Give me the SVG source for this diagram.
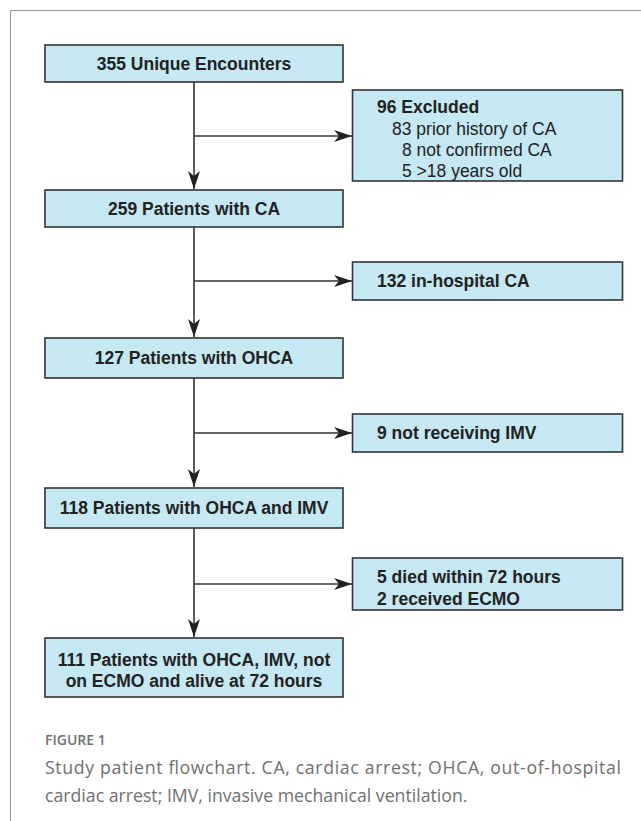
<svg xmlns="http://www.w3.org/2000/svg" width="641" height="821" viewBox="0 0 641 821">
<defs>
<style>
.box{fill:#c6e8f3;stroke:#333;stroke-width:1.6}
.b{font-family:"Liberation Sans",Arial,sans-serif;font-size:17.5px;font-weight:bold;fill:#222}
.r{font-family:"Liberation Sans",Arial,sans-serif;font-size:17.5px;fill:#222}
.c{text-anchor:middle}
.ln{fill:none;stroke:#333;stroke-width:1.6}
.cap{font-family:"Open Sans","Noto Sans",sans-serif;fill:#707070}
</style>
<marker id="ah" viewBox="0 0 18 12" refX="18" refY="6" markerWidth="18" markerHeight="12" markerUnits="userSpaceOnUse" orient="auto">
<path d="M0,0 L18,6 L0,12 L5,6 Z" fill="#222"/>
</marker>
</defs>
<rect width="641" height="821" fill="#fff"/>
<path d="M10.5,821 V10.5 H641" fill="none" stroke="#999" stroke-width="1"/>
<g id="connectors">
<line class="ln" x1="194" y1="82" x2="194" y2="189" marker-end="url(#ah)"/>
<line class="ln" x1="194" y1="136" x2="352" y2="136" marker-end="url(#ah)"/>
<line class="ln" x1="194" y1="227" x2="194" y2="337" marker-end="url(#ah)"/>
<line class="ln" x1="194" y1="281" x2="352" y2="281" marker-end="url(#ah)"/>
<line class="ln" x1="194" y1="378" x2="194" y2="487" marker-end="url(#ah)"/>
<line class="ln" x1="194" y1="433" x2="352" y2="433" marker-end="url(#ah)"/>
<line class="ln" x1="194" y1="528" x2="194" y2="637" marker-end="url(#ah)"/>
<line class="ln" x1="194" y1="584" x2="352" y2="584" marker-end="url(#ah)"/>
</g>
<g id="n1"><rect class="box" x="45" y="45" width="298" height="37"/><text class="b c" x="194" y="70">355 Unique Encounters</text></g>
<g id="n2"><rect class="box" x="352.5" y="90" width="270" height="91"/>
<text class="b" x="377" y="113">96 Excluded</text>
<text class="r" x="392" y="135">83 prior history of CA</text>
<text class="r" x="402" y="156">8 not confirmed CA</text>
<text class="r" x="402" y="177">5 &gt;18 years old</text></g>
<g id="n3"><rect class="box" x="45" y="190" width="298" height="37"/><text class="b c" x="194" y="215">259 Patients with CA</text></g>
<g id="n4"><rect class="box" x="352.5" y="262" width="270" height="38"/><text class="b" x="377" y="287">132 in-hospital CA</text></g>
<g id="n5"><rect class="box" x="45" y="338" width="298" height="40"/><text class="b c" x="194" y="364">127 Patients with OHCA</text></g>
<g id="n6"><rect class="box" x="352.5" y="414" width="270" height="38"/><text class="b" x="377" y="439">9 not receiving IMV</text></g>
<g id="n7"><rect class="box" x="45" y="488" width="298" height="40"/><text class="b c" x="194" y="514">118 Patients with OHCA and IMV</text></g>
<g id="n8"><rect class="box" x="352.5" y="558" width="270" height="52"/>
<text class="b" x="377" y="583">5 died within 72 hours</text>
<text class="b" x="377" y="605">2 received ECMO</text></g>
<g id="n9"><rect class="box" x="45" y="638" width="298" height="59"/>
<text class="b c" x="194" y="666">111 Patients with OHCA, IMV, not</text>
<text class="b c" x="194" y="687">on ECMO and alive at 72 hours</text></g>
<g id="caption">
<text class="cap" x="45" y="745" font-size="14" font-weight="600">FIGURE 1</text>
<text class="cap" x="45" y="774" font-size="17.7" textLength="576" lengthAdjust="spacing">Study patient flowchart. CA, cardiac arrest; OHCA, out-of-hospital</text>
<text class="cap" x="45" y="802" font-size="17.7">cardiac arrest; IMV, invasive mechanical ventilation.</text>
</g>
</svg>
